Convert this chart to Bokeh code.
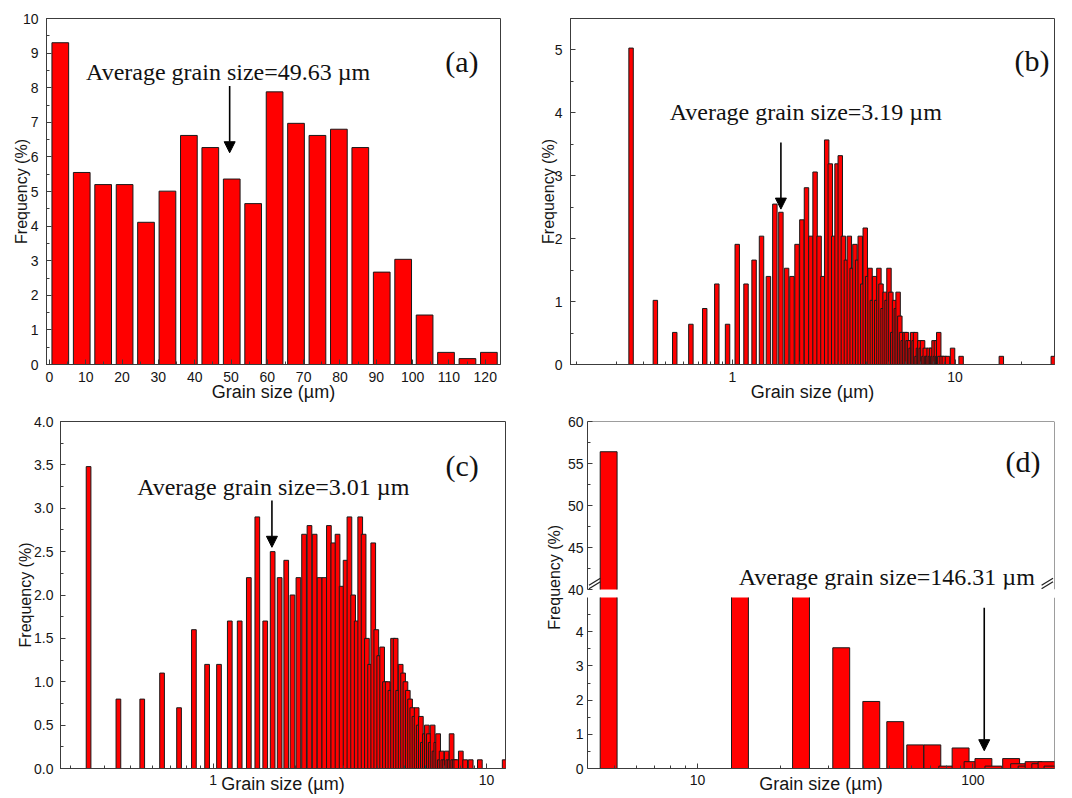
import math
from bokeh.plotting import figure
from bokeh.models import (Range1d, FixedTicker, SingleIntervalTicker, Arrow, NormalHead,
                          Label, Span, BasicTickFormatter, PrintfTickFormatter)
from bokeh.layouts import row, column
from bokeh.embed import file_html
from bokeh.resources import INLINE
from bokeh.core.properties import value

# ---------------- data ----------------
a_size = [3.0, 8.9, 14.8, 20.7, 26.6, 32.5, 38.4, 44.3, 50.2, 56.1, 62.0,
          67.9, 73.8, 79.7, 85.6, 91.5, 97.4, 103.3, 109.2, 115.1, 121.0]
a_freq = [9.30, 5.55, 5.20, 5.20, 4.11, 5.01, 6.62, 6.27, 5.36, 4.65, 7.88,
          6.97, 6.62, 6.80, 6.27, 2.67, 3.04, 1.43, 0.35, 0.17, 0.35]

b_size = [0.35, 0.45, 0.55, 0.65, 0.75, 0.85, 0.95, 1.05, 1.15, 1.25,
          1.35, 1.45, 1.55, 1.65, 1.75, 1.85, 1.95, 2.05, 2.15, 2.25,
          2.35, 2.45, 2.55, 2.65, 2.75, 2.85, 2.95, 3.05, 3.15, 3.25,
          3.35, 3.45, 3.55, 3.65, 3.75, 3.85, 3.95, 4.05, 4.15, 4.25,
          4.35, 4.45, 4.55, 4.65, 4.75, 4.85, 4.95, 5.05, 5.15, 5.25,
          5.35, 5.45, 5.55, 5.65, 5.75, 5.85, 5.95, 6.05, 6.15, 6.25,
          6.35, 6.45, 6.55, 6.65, 6.75, 6.85, 6.95, 7.05, 7.15, 7.25,
          7.35, 7.45, 7.55, 7.65, 7.75, 7.85, 7.95, 8.05, 8.15, 8.25,
          8.35, 8.45, 8.55, 8.75, 8.95, 9.25, 9.75, 10.65, 16.15, 27.65]
b_freq = [5.03, 1.02, 0.51, 0.64, 0.89, 1.28, 0.64, 1.91, 1.28, 1.66,
          2.04, 1.40, 2.55, 2.42, 1.53, 1.40, 1.91, 2.30, 2.81, 2.04,
          3.06, 2.04, 1.40, 3.57, 3.19, 2.04, 3.19, 3.32, 2.04, 1.66,
          2.04, 1.53, 1.91, 1.66, 2.04, 1.28, 2.17, 1.40, 1.53, 1.02,
          1.40, 1.02, 1.53, 1.28, 0.89, 1.15, 1.02, 1.53, 1.15, 0.51,
          1.02, 0.89, 1.15, 0.77, 0.51, 0.38, 0.51, 0.51, 0.38, 0.38,
          0.26, 0.51, 0.38, 0.51, 0.13, 0.26, 0.38, 0.26, 0.38, 0.13,
          0.26, 0.13, 0.13, 0.26, 0.13, 0.26, 0.13, 0.38, 0.13, 0.38,
          0.13, 0.51, 0.13, 0.13, 0.13, 0.13, 0.26, 0.13, 0.13, 0.13]

c_size = [0.35, 0.45, 0.55, 0.65, 0.75, 0.85, 0.95, 1.05, 1.15, 1.25,
          1.35, 1.45, 1.55, 1.65, 1.75, 1.85, 1.95, 2.05, 2.15, 2.25,
          2.35, 2.45, 2.55, 2.65, 2.75, 2.85, 2.95, 3.05, 3.15, 3.25,
          3.35, 3.45, 3.55, 3.65, 3.75, 3.85, 3.95, 4.05, 4.15, 4.25,
          4.35, 4.45, 4.55, 4.65, 4.75, 4.85, 4.95, 5.05, 5.15, 5.25,
          5.35, 5.45, 5.55, 5.65, 5.75, 5.85, 5.95, 6.05, 6.15, 6.25,
          6.35, 6.45, 6.55, 6.65, 6.75, 6.85, 6.95, 7.05, 7.15, 7.25,
          7.35, 7.45, 7.55, 7.65, 7.75, 8.05, 8.35, 8.75, 9.45, 11.65]
c_freq = [3.48, 0.80, 0.80, 1.10, 0.70, 1.60, 1.20, 1.20, 1.70, 1.70,
          2.20, 2.90, 1.70, 2.50, 2.20, 2.40, 2.00, 2.20, 2.70, 2.80,
          2.70, 2.20, 2.20, 2.80, 2.60, 2.70, 2.10, 2.40, 2.90, 2.00,
          1.70, 2.90, 2.70, 1.50, 1.20, 2.60, 1.60, 1.30, 1.40, 1.00,
          1.00, 0.90, 1.50, 1.50, 0.90, 1.20, 1.10, 1.00, 0.90, 0.80,
          0.70, 0.60, 0.70, 0.50, 0.60, 0.30, 0.40, 0.50, 0.40, 0.30,
          0.50, 0.20, 0.30, 0.40, 0.10, 0.20, 0.10, 0.10, 0.20, 0.10,
          0.10, 0.40, 0.10, 0.10, 0.10, 0.20, 0.10, 0.10, 0.10, 0.10]

d_size = [4.75, 14.25, 23.75, 33.25, 42.75, 52.25, 61.75, 71.25, 80.75, 90.25,
          99.75, 109.25, 118.75, 137.75, 147.25, 156.75, 166.25, 175.75, 185.25, 194.75]
d_freq = [56.4, 17.5, 15.7, 3.53, 1.96, 1.37, 0.69, 0.69, 0.07, 0.60,
          0.20, 0.29, 0.07, 0.29, 0.14, 0.07, 0.20, 0.14, 0.20, 0.07]

avg_text = ["Average grain size=49.63 \u00b5m", "Average grain size=3.19 \u00b5m",
            "Average grain size=3.01 \u00b5m", "Average grain size=146.31 \u00b5m"]
panel_tags = ["(a)", "(b)", "(c)", "(d)"]
x_title = "Grain size (\u00b5m)"
y_title = "Frequency (%)"

# ---------------- style ----------------
RED = "#FF0000"
EDGE = "#1a1a1a"
AX = "#3c3c3c"
TXT = "#151515"
SANS = "Liberation Sans"
SERIF = "Liberation Serif"


def base(p):
    p.xgrid.visible = False
    p.ygrid.visible = False
    p.background_fill_color = "white"
    p.border_fill_color = "white"
    p.outline_line_color = AX
    p.outline_line_width = 1
    for ax in p.axis:
        ax.axis_line_color = AX
        ax.major_tick_in = 5
        ax.major_tick_out = 0
        ax.minor_tick_in = 3
        ax.minor_tick_out = 0
        ax.major_tick_line_color = AX
        ax.minor_tick_line_color = AX
        ax.major_label_text_font = SANS
        ax.major_label_text_font_size = "14px"
        ax.major_label_text_color = TXT
        ax.axis_label_text_font = SANS
        ax.axis_label_text_font_style = "normal"
        ax.axis_label_text_color = TXT
    p.xaxis.axis_label_text_font_size = "18px"
    p.yaxis.axis_label_text_font_size = "16px"


def log_bars(p, xs, ys, half_dec):
    f = 10 ** half_dec
    p.quad(left=[x / f for x in xs], right=[x * f for x in xs], bottom=0, top=ys,
           fill_color=RED, line_color=EDGE, line_width=1)


def arrow(p, x, y0, y1):
    p.add_layout(Arrow(end=NormalHead(size=11, fill_color="black", line_color="black"),
                       x_start=x, y_start=y0, x_end=x, y_end=y1,
                       line_color="black", line_width=1.6))


def label(p, x, y, text, size):
    p.add_layout(Label(x=x, y=y, text=text, text_font=SERIF, text_font_size=size,
                       text_color="#111111", text_baseline="alphabetic", text_align="left"))


common = dict(output_backend="svg", toolbar_location=None)

# ---------------- (a) ----------------
pa = figure(width=536, height=406, x_range=Range1d(-0.8, 124.2), y_range=Range1d(0, 10),
            min_border_left=46, min_border_right=36, min_border_top=17, min_border_bottom=41,
            **common)
pa.vbar(x=a_size, top=a_freq, bottom=0, width=4.6, fill_color=RED, line_color=EDGE, line_width=1)
base(pa)
pa.xaxis.ticker = SingleIntervalTicker(interval=10, num_minor_ticks=2)
pa.yaxis.ticker = SingleIntervalTicker(interval=1, num_minor_ticks=2)
pa.xaxis.axis_label = x_title
pa.yaxis.axis_label = y_title
pa.xaxis.major_label_standoff = 7
pa.xaxis.axis_label_standoff = -3
pa.yaxis.major_label_standoff = 8
pa.yaxis.axis_label_standoff = -10
arrow(pa, 49.63, 8.05, 6.12)
label(pa, 10.1, 8.46, avg_text[0], "24px")
label(pa, 109.0, 8.76, panel_tags[0], "30px")

# ---------------- (b) ----------------
pb = figure(width=536, height=406, x_axis_type="log", x_range=Range1d(0.187, 28.0),
            y_range=Range1d(0, 5.5),
            min_border_left=30, min_border_right=18, min_border_top=18, min_border_bottom=42,
            **common)
log_bars(pb, b_size, b_freq, 0.0100)
base(pb)
pb.xaxis.ticker = FixedTicker(ticks=[1, 10],
                              minor_ticks=[0.2, 0.3, 0.4, 0.5, 0.6, 0.7, 0.8, 0.9,
                                           2, 3, 4, 5, 6, 7, 8, 9, 20])
pb.xaxis.formatter = BasicTickFormatter()
pb.yaxis.ticker = SingleIntervalTicker(interval=1, num_minor_ticks=2)
pb.xaxis.axis_label = x_title
pb.yaxis.axis_label = y_title
pb.xaxis.major_label_standoff = 7
pb.xaxis.axis_label_standoff = -3
pb.yaxis.major_label_standoff = 8
pb.yaxis.axis_label_standoff = -5
arrow(pb, 1.65, 3.53, 2.47)
label(pb, 0.522, 4.02, avg_text[1], "24px")
label(pb, 18.5, 4.83, panel_tags[1], "30px")

# ---------------- (c) ----------------
pc = figure(width=536, height=391, x_axis_type="log", x_range=Range1d(0.2763, 11.73),
            y_range=Range1d(0, 4),
            min_border_left=60, min_border_right=31, min_border_top=15, min_border_bottom=29,
            **common)
log_bars(pc, c_size, c_freq, 0.0086)
base(pc)
pc.xaxis.ticker = FixedTicker(ticks=[1, 10],
                              minor_ticks=[0.3, 0.4, 0.5, 0.6, 0.7, 0.8, 0.9,
                                           2, 3, 4, 5, 6, 7, 8, 9])
pc.xaxis.formatter = BasicTickFormatter()
pc.yaxis.ticker = SingleIntervalTicker(interval=0.5, num_minor_ticks=2)
pc.yaxis.formatter = PrintfTickFormatter(format="%.1f")
pc.xaxis.axis_label = x_title
pc.yaxis.axis_label = y_title
pc.xaxis.major_label_standoff = 6
pc.xaxis.axis_label_standoff = -14
pc.yaxis.major_label_standoff = 7
pc.yaxis.axis_label_standoff = -3
arrow(pc, 1.64, 3.09, 2.55)
label(pc, 0.527, 3.24, avg_text[2], "24px")
label(pc, 7.08, 3.49, panel_tags[2], "30px")

# ---------------- (d) : broken y axis ----------------
d_xr = Range1d(3.98, 198.0)
d_half = 0.0307
D_FRAME_W = 470.0
dec_px = D_FRAME_W / math.log10(d_xr.end / d_xr.start)   # pixels per decade
UP_PX = 168.0 / 20.0                                       # pixels per % in upper segment

# y title column
pt = figure(width=28, height=391, x_range=Range1d(0, 1), y_range=Range1d(0, 1),
            min_border=0, **common)
pt.axis.visible = False
pt.xgrid.visible = False
pt.ygrid.visible = False
pt.outline_line_color = None
pt.text(x=[0.66], y=[0.551], text=[y_title], angle=math.pi / 2, text_align="center",
        text_baseline="middle", text_font=value(SANS), text_font_size=value("16px"),
        text_color=TXT)

# upper segment 40-60
pdu = figure(width=508, height=191, x_axis_type="log", x_range=d_xr, y_range=Range1d(40, 60),
             min_border_left=20, min_border_right=18, min_border_top=15, min_border_bottom=8,
             **common)
log_bars(pdu, d_size, d_freq, d_half)
base(pdu)
pdu.outline_line_color = None
pdu.xaxis.visible = False
pdu.yaxis.ticker = FixedTicker(ticks=[40, 45, 50, 55, 60], minor_ticks=[42.5, 47.5, 52.5, 57.5])
pdu.yaxis.major_label_standoff = 4
pdu.add_layout(Span(location=60, dimension="width", line_color=AX, line_width=1))
pdu.add_layout(Span(location=d_xr.end, dimension="height", line_color=AX, line_width=1))
label(pdu, 14.1, 41.46, avg_text[3], "24px")
label(pdu, 131.5, 55.2, panel_tags[3], "30px")

# break marks "//" next to both axis lines, at the bottom of the upper segment
k_in = 10 ** (1.5 / dec_px)
k_out = 10 ** (13.0 / dec_px)
mx0, mx1, my0, my1 = [], [], [], []
for lo, hi in ((d_xr.start * k_in, d_xr.start * k_out), (d_xr.end / k_out, d_xr.end / k_in)):
    for off in (0.8, 4.2):
        mx0.append(lo)
        mx1.append(hi)
        my0.append(40 + off / UP_PX)
        my1.append(40 + (off + 7.0) / UP_PX)
pdu.segment(x0=mx0, y0=my0, x1=mx1, y1=my1, line_color="#222222", line_width=1.3)

# lower segment 0-5
pdl = figure(width=508, height=200, x_axis_type="log", x_range=d_xr, y_range=Range1d(0, 5),
             min_border_left=20, min_border_right=18, min_border_top=0, min_border_bottom=29,
             **common)
log_bars(pdl, d_size, d_freq, d_half)
base(pdl)
pdl.outline_line_color = None
pdl.xaxis.ticker = FixedTicker(ticks=[10, 100],
                               minor_ticks=[5, 6, 7, 8, 9, 20, 30, 40, 50, 60, 70, 80, 90])
pdl.xaxis.formatter = BasicTickFormatter()
pdl.yaxis.ticker = FixedTicker(ticks=[0, 1, 2, 3, 4], minor_ticks=[0.5, 1.5, 2.5, 3.5, 4.5])
pdl.xaxis.axis_label = x_title
pdl.xaxis.major_label_standoff = 6
pdl.xaxis.axis_label_standoff = -14
pdl.yaxis.major_label_standoff = 4
pdl.add_layout(Span(location=d_xr.end, dimension="height", line_color=AX, line_width=1))
arrow(pdl, 110.0, 4.70, 0.52)

layout = column(row(pa, pb), row(pc, pt, column(pdu, pdl)))

with open("out.html", "w") as fh:
    fh.write(file_html(layout, INLINE))
